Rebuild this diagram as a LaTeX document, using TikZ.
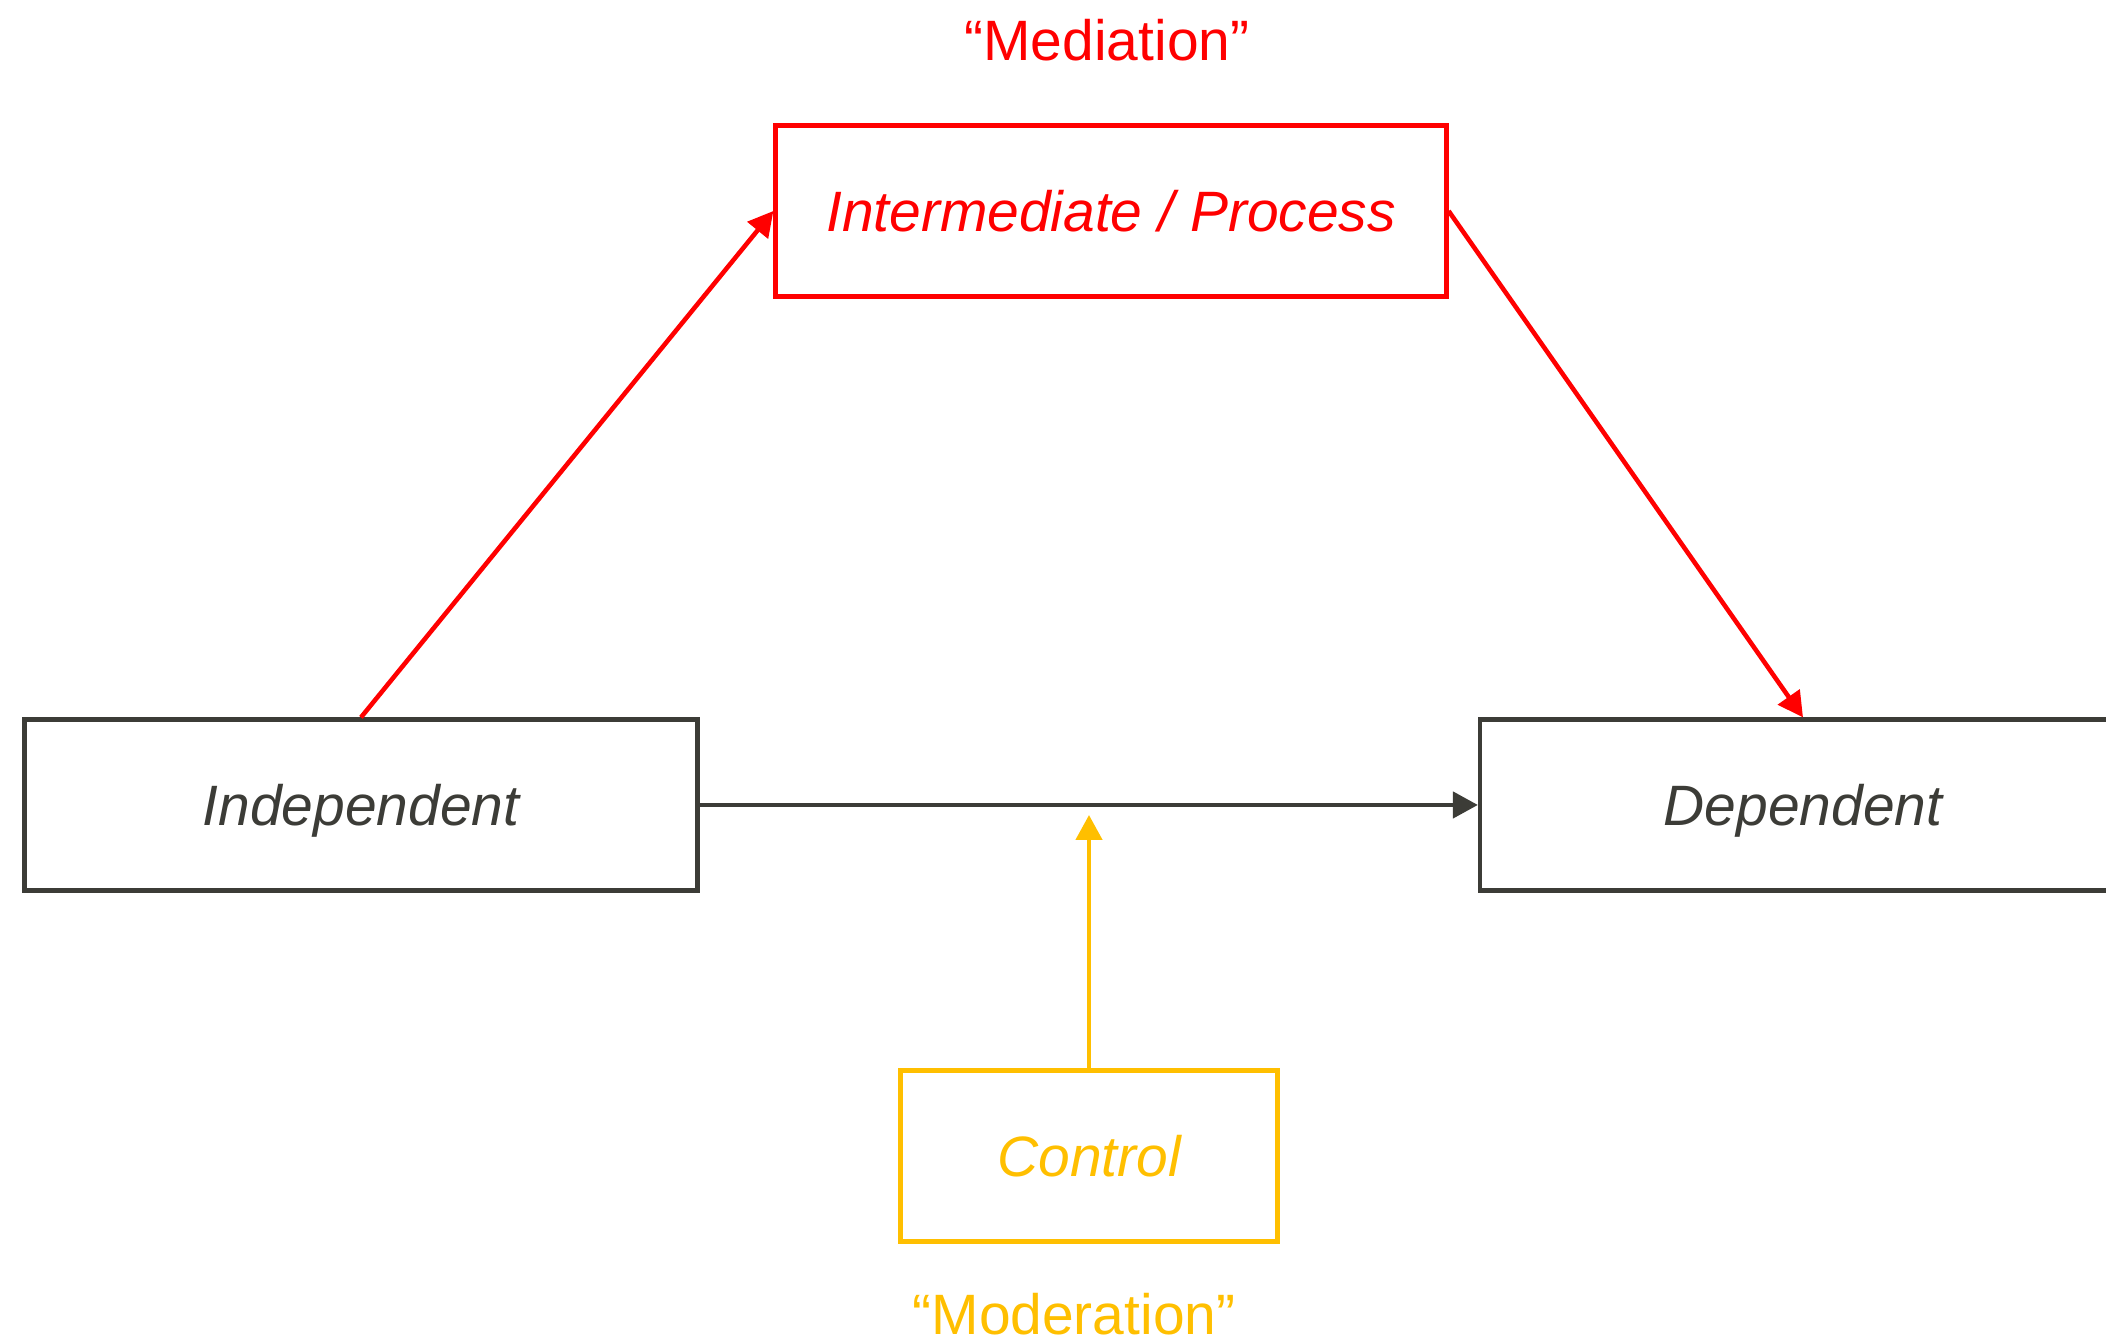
\documentclass[tikz,border=0pt]{standalone}
\usepackage{fontspec}
\setmainfont{Liberation Sans}
\usetikzlibrary{arrows.meta}
\definecolor{darkgray}{HTML}{3C3C37}
\definecolor{medred}{HTML}{FF0000}
\definecolor{modgold}{HTML}{FFBF00}
\begin{document}
\begin{tikzpicture}[
    box/.style={rectangle,draw,line width=1.2pt,inner sep=0pt,minimum height=1.71cm,text depth=0pt,
        font=\fontsize{16.2}{19}\selectfont\itshape},
    tag/.style={inner sep=0pt,font=\fontsize{16.2}{19}\selectfont},
    link/.style={line width=1.3pt,-{Triangle[length=2.5mm,width=2.6mm]}}
]
            \useasboundingbox (0,0) rectangle (21.06,13.43);
            \node(indep)[box,darkgray,minimum width=6.73cm] at (3.61,5.38){Independent};
            \node(dep)[box,darkgray,minimum width=6.46cm] at (18.03,5.38){Dependent};
            \node(inter)[box,medred,minimum width=6.71cm] at (11.11,11.32){Intermediate / Process};
            \node(ctrl)[box,modgold,minimum width=3.77cm] at (10.89,1.87){Control};
            \node(med)[tag,medred] at (11.07,13.03){``Mediation''};
            \node(mod)[tag,modgold] at (10.74,0.29){``Moderation''};
            \coordinate(hit) at (10.89,5.28);
            \draw[link,darkgray] (indep) -- (dep);
            \draw[link,medred] (indep.north) -- (inter.west);
            \draw[link,medred] (inter.east) -- (dep.north);
            \draw[link,modgold] (ctrl.north) -- (hit);
\end{tikzpicture}
\end{document}
